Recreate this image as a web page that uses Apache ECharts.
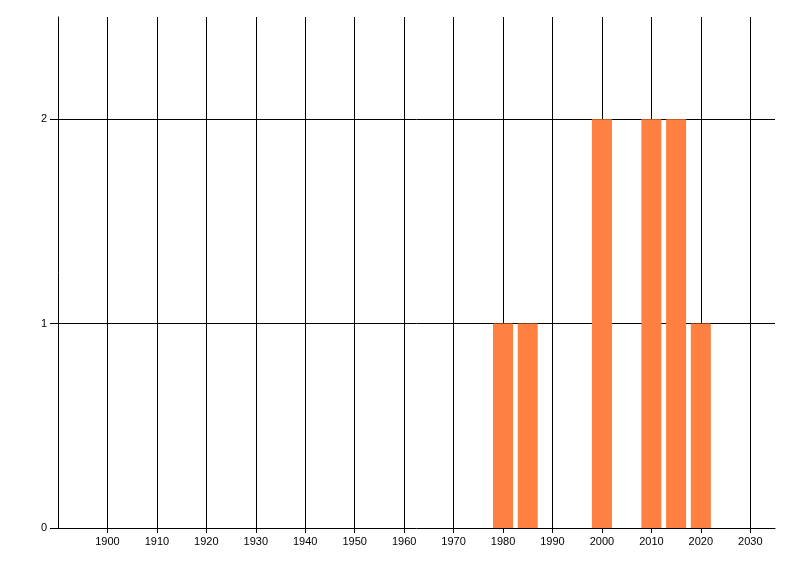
<!DOCTYPE html>
<html>
<head>
<meta charset="utf-8">
<script src="https://cdn.jsdelivr.net/npm/echarts@6/dist/echarts.min.js"></script>
<style>
  html, body { margin: 0; padding: 0; background: #fff; }
  #chart { width: 800px; height: 576px; }
</style>
</head>
<body>
<div id="chart"></div>
<script>
// years with a count, and the count for each
const years = [1980, 1985, 2000, 2010, 2015, 2020];
const counts = [1, 1, 2, 2, 2, 1];
const xTicks = [1900, 1910, 1920, 1930, 1940, 1950, 1960, 1970, 1980, 1990, 2000, 2010, 2020, 2030];
const yTicks = [0, 1, 2];

const chart = echarts.init(document.getElementById('chart'));
const labelFont = { color: '#000', fontFamily: 'Liberation Sans', fontSize: 11, formatter: v => String(v) };
const black = { color: '#000', width: 1 };

chart.setOption({
  animation: false,
  grid: { left: 58, right: 25, top: 17, bottom: 48 },
  xAxis: {
    type: 'value',
    min: 1890,
    max: 2035,
    interval: 10,
    axisLine: { lineStyle: black },
    axisTick: { show: true, length: 5, lineStyle: black, customValues: xTicks },
    axisLabel: Object.assign({ margin: 8, customValues: xTicks }, labelFont),
    splitLine: { show: true, showMinLine: true, showMaxLine: true, lineStyle: black }
  },
  yAxis: {
    type: 'value',
    min: 0,
    max: 2.5,
    interval: 1,
    axisLine: { show: true, lineStyle: black },
    axisTick: { show: true, length: 8, lineStyle: black, customValues: yTicks },
    axisLabel: Object.assign({ margin: 11, customValues: yTicks }, labelFont),
    splitLine: { show: true, showMinLine: false, showMaxLine: true, lineStyle: black }
  },
  series: [{
    type: 'bar',
    barWidth: 20,
    itemStyle: { color: '#ff8040' },
    data: years.map((y, i) => [y, counts[i]])
  }]
});
</script>
</body>
</html>
